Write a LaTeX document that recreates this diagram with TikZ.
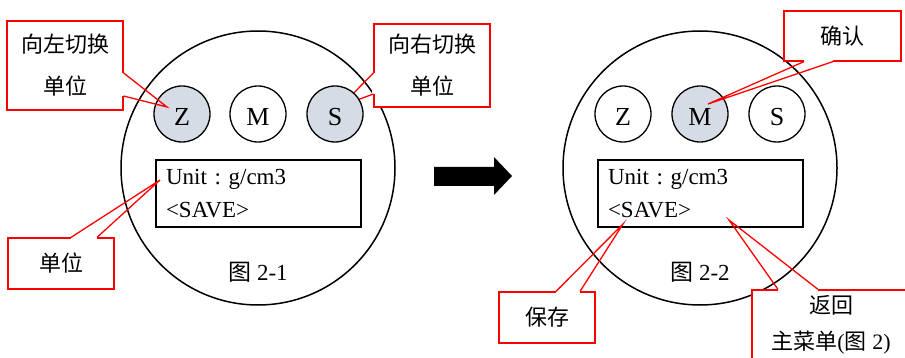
\documentclass[tikz,border=0pt]{standalone}
\usepackage{fontspec}
\setmainfont{Liberation Serif}
\newfontfamily\cjk{Noto Sans CJK SC}
\definecolor{keyfill}{RGB}{214,220,229}

\begin{document}
\begin{tikzpicture}[x=1pt, y=-1pt,
        dial/.style={circle, draw, line width=1.5pt, minimum size=274pt, inner sep=0pt},
        key/.style={circle, draw, line width=1.3pt, minimum size=56pt, inner sep=0pt,
                text height=24pt, text depth=0pt, font=\fontsize{26}{30}\selectfont},
        screen/.style={draw, line width=1.2pt, minimum width=205pt, minimum height=67pt,
                inner xsep=10pt, inner ysep=0pt, text width=185pt, align=left,
                font=\fontsize{23}{33}\selectfont\frenchspacing},
        tag/.style={draw=red, fill=white, line width=1.2pt, inner sep=0pt, align=center,
                font=\cjk\fontsize{22}{42}\selectfont},
        lead/.style={red, line width=1.3pt},
        gap/.style={white, line width=2.6pt},
        caption/.style={font=\fontsize{23}{28}\selectfont}]
    \useasboundingbox (0,0) rectangle (905,358);

    % left dial
    \node[dial] (dialA) at (258,168) {};

    % note of S, under the key
    \node[tag, minimum width=116pt, minimum height=83pt] (noteS) at (432,65.5) {向右切换\\单位};
    \coordinate (tipS) at (341,106);
    \draw[gap] (noteS.west |- 0,73) -- (noteS.west |- 0,94);
    \draw[lead] (noteS.west |- 0,73) -- (tipS) -- (noteS.west |- 0,94);

    % keys
    \node[key, fill=keyfill] (zA) at (182,114) {Z};
    \node[key] (mA) at (258,114) {M};
    \node[key, fill=keyfill] (sA) at (335,114) {S};

    \node[screen] (scrA) at (258.5,193.5) {Unit : g/cm3\\<SAVE>};
    \node[caption] (capA) at (258,272) {{\cjk 图} 2-1};

    % notes
    \node[tag, minimum width=116pt, minimum height=89pt] (noteZ) at (65,65.5) {向左切换\\单位};
    \coordinate (tipZ) at (167,107);
    \draw[gap] (noteZ.east |- 0,73) -- (noteZ.east |- 0,96);
    \draw[lead] (noteZ.east |- 0,73) -- (tipZ) -- (noteZ.east |- 0,96);

    \node[tag, minimum width=106pt, minimum height=51pt] (noteU) at (61,263.5) {单位};
    \coordinate (tipU) at (160,180);
    \draw[gap] (noteU.north -| 71,0) -- (noteU.north -| 97,0);
    \draw[lead] (noteU.north -| 71,0) -- (tipU) -- (noteU.north -| 97,0);

    % arrow
    \fill (434,167) -- (494,167) -- (494,157) -- (512,176) -- (494,195)
        -- (494,186) -- (434,186) -- cycle;

    % right dial
    \node[dial] (dialB) at (700,168) {};

    \node[key] (zB) at (623,114) {Z};
    \node[key, fill=keyfill] (mB) at (700,114) {M};
    \node[key] (sB) at (777,114) {S};

    \node[screen] (scrB) at (700.5,193.5) {Unit : g/cm3\\<SAVE>};
    \node[caption] (capB) at (700,272) {{\cjk 图} 2-2};

    % notes
    \node[tag, minimum width=117pt, minimum height=50pt] (noteM) at (842.5,36) {确认};
    \coordinate (tipM) at (708,104);
    \draw[gap] (noteM.south -| 804,0) -- (noteM.south -| 833,0);
    \draw[lead] (noteM.south -| 804,0) -- (tipM) -- (noteM.south -| 833,0);

    \node[tag, minimum width=96pt, minimum height=51pt] (noteSave) at (547,317.5) {保存};
    \coordinate (tipSave) at (623,224);
    \draw[gap] (noteSave.north -| 556,0) -- (noteSave.north -| 580,0);
    \draw[lead] (noteSave.north -| 556,0) -- (tipSave) -- (noteSave.north -| 580,0);

    \node[tag, minimum width=158pt, minimum height=70pt, font=\cjk\fontsize{22}{36.5}\selectfont]
        (noteBack) at (831,325) {返回\\主菜单{\rmfamily (}图{\rmfamily\ 2)}};
    \coordinate (tipBack) at (729,220);
    \draw[gap] (noteBack.north -| 778,0) -- (noteBack.north -| 818,0);
    \draw[lead] (noteBack.north -| 778,0) -- (tipBack) -- (noteBack.north -| 818,0);
\end{tikzpicture}
\end{document}
